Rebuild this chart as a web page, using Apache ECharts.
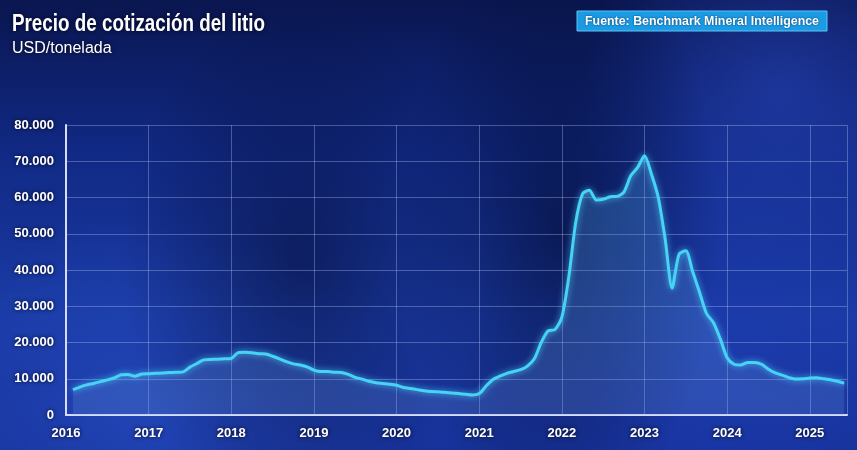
<!DOCTYPE html>
<html>
<head>
<meta charset="utf-8">
<script src="https://cdn.jsdelivr.net/npm/echarts@6/dist/echarts.min.js"></script>
<style>
html,body{margin:0;padding:0;width:857px;height:450px;overflow:hidden;}
body{
  background:
    radial-gradient(ellipse 180px 260px at 300px 260px, rgba(5,12,50,0.55), rgba(5,12,50,0) 100%),
    radial-gradient(ellipse 160px 300px at 560px 230px, rgba(3,10,45,0.6), rgba(3,10,45,0) 100%),
    radial-gradient(ellipse 200px 200px at 780px 90px, rgba(40,70,190,0.55), rgba(40,70,190,0) 100%),
    radial-gradient(ellipse 260px 200px at 150px 420px, rgba(40,80,200,0.55), rgba(40,80,200,0) 100%),
    radial-gradient(ellipse 220px 220px at 720px 380px, rgba(30,60,180,0.5), rgba(30,60,180,0) 100%),
    linear-gradient(180deg, #0a1650 0%, #112a86 35%, #1a3aa4 70%, #17329a 100%);
}
#chart{width:857px;height:450px;}
</style>
</head>
<body>
<div id="chart"></div>
<script>
// Data (USD/tonelada), monthly, starting Feb 2016
var title = 'Precio de cotización del litio';
var subtitle = 'USD/tonelada';
var source = 'Fuente: Benchmark Mineral Intelligence';
var startYear = 2016;
var startMonth = 1; // 0 = January
var yearTicks = [2016, 2017, 2018, 2019, 2020, 2021, 2022, 2023, 2024, 2025];
var yTicks = [0, 10000, 20000, 30000, 40000, 50000, 60000, 70000, 80000];
var prices = [
  7000, 7700, 8300, 8700, 9200, 9700, 10200, 11100, 11200, 10700, 11300,
  11400, 11500, 11600, 11700, 11800, 11900, 13200, 14200, 15200, 15300, 15400, 15500,
  15600, 17200, 17300, 17200, 16900, 16800, 16200, 15500, 14700, 14100, 13800, 13300,
  12400, 12000, 12000, 11800, 11700, 11200, 10400, 9900, 9300, 8900, 8700, 8500,
  8200, 7600, 7300, 7000, 6700, 6500, 6400, 6300, 6100, 5900, 5700, 5500,
  5900, 8000, 9800, 10700, 11500, 12000, 12500, 13500, 15500, 20000, 23200, 23600,
  27000, 38000, 53000, 61000, 62000, 59300, 59500, 60200, 60300, 61500, 66000, 68300,
  71500, 66500, 60000, 48500, 35000, 44300, 45300, 39500, 33800, 28000, 25500, 21000,
  15800, 14000, 13800, 14500, 14500, 14000, 12600, 11600, 11000, 10300, 9900, 10000,
  10200, 10300, 10000, 9700, 9300, 8800
];

var seriesData = prices.map(function (v, i) {
  return [startYear + (startMonth + i) / 12, v];
});

function fmtThousands(v) {
  var s = String(Math.round(v));
  return s.replace(/\B(?=(\d{3})+(?!\d))/g, '.');
}

var measureCtx = document.createElement('canvas').getContext('2d');
function textWidth(text, font) {
  measureCtx.font = font;
  return measureCtx.measureText(text).width;
}
var titleFont = 'bold 23px "Liberation Sans"';
var titleScale = 253 / textWidth(title, titleFont);
var sourceFont = 'bold 13px "Liberation Sans"';
var sourceScale = 234 / textWidth(source, sourceFont);

var chart = echarts.init(document.getElementById('chart'), null, {renderer: 'canvas'});
var labelFont = {
  color: '#ffffff',
  fontFamily: 'Liberation Sans',
  fontWeight: 'bold',
  fontSize: 13,
  textShadowColor: 'rgba(0,0,20,0.9)',
  textShadowBlur: 4
};
chart.setOption({
  backgroundColor: 'transparent',
  animation: false,
  graphic: [{
    type: 'text', x: 12, y: 13, scaleX: titleScale,
    style: {text: title, font: titleFont, fill: '#ffffff', textShadowColor: 'rgba(0,0,20,0.9)', textShadowBlur: 5}
  }, {
    type: 'text', x: 12, y: 41,
    style: {text: subtitle, font: '16px "Liberation Sans"', fill: '#ffffff', textShadowColor: 'rgba(0,0,20,0.9)', textShadowBlur: 5}
  }, {
    type: 'rect', shape: {x: 577, y: 11, width: 250, height: 20},
    style: {fill: '#1a9be4', stroke: '#5cc4f5', lineWidth: 1}
  }, {
    type: 'text', x: 702, y: 21.5, scaleX: sourceScale,
    style: {text: source, font: sourceFont, fill: '#ffffff', align: 'center', verticalAlign: 'middle',
      textShadowColor: 'rgba(0,20,60,0.8)', textShadowBlur: 2}
  }],
  grid: {left: 66, right: 10, top: 125, bottom: 35, containLabel: false},
  xAxis: {
    type: 'value',
    min: 2016, max: 2025.45, interval: 1,
    axisLine: {show: true, lineStyle: {color: '#d6dcff', width: 2}},
    axisTick: {show: false},
    splitLine: {show: true, lineStyle: {color: 'rgba(200,210,255,0.32)', width: 1}},
    axisLabel: Object.assign({margin: 12, formatter: function (v) {
      return yearTicks.indexOf(Math.round(v)) >= 0 && Math.abs(v - Math.round(v)) < 1e-6 ? String(Math.round(v)) : '';
    }, showMaxLabel: false}, labelFont)
  },
  yAxis: {
    type: 'value',
    min: 0, max: 80000, interval: 10000,
    axisLine: {show: true, lineStyle: {color: '#d6dcff', width: 2}},
    axisTick: {show: false},
    splitLine: {show: true, lineStyle: {color: 'rgba(200,210,255,0.32)', width: 1}},
    axisLabel: Object.assign({margin: 12, formatter: function (v) {
      return yTicks.indexOf(v) >= 0 ? fmtThousands(v) : '';
    }}, labelFont)
  },
  series: [{
    type: 'line',
    data: seriesData,
    showSymbol: false,
    smooth: 0.25,
    lineStyle: {color: '#46d3f6', width: 3, shadowColor: 'rgba(80,220,255,0.8)', shadowBlur: 6},
    areaStyle: {
      color: {
        type: 'linear', x: 0, y: 0, x2: 0, y2: 1,
        colorStops: [
          {offset: 0, color: 'rgba(70,160,220,0.45)'},
          {offset: 1, color: 'rgba(110,150,220,0.32)'}
        ]
      }
    }
  }]
});
</script>
</body>
</html>
